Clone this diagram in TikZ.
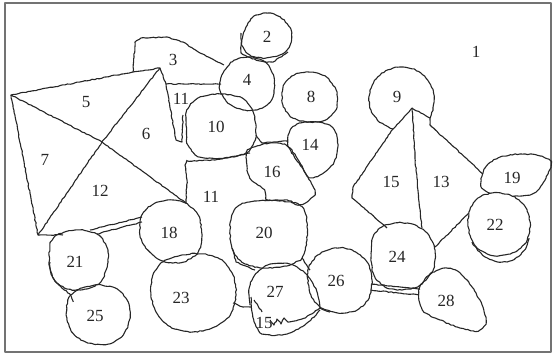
\documentclass[tikz,border=0pt]{standalone}
\usepackage{fontspec}
\setmainfont{Liberation Serif}
\usetikzlibrary{decorations.pathmorphing}
\begin{document}
\begin{tikzpicture}[x=1pt,y=-1pt,line width=1.1pt,line join=round,
  lab/.style={font=\fontsize{17}{17}\selectfont,inner sep=0pt,text=black!85},
  edge/.style={draw=black!85,decorate,decoration={random steps,segment length=2.5pt,amplitude=0.45pt}},
  blob/.style={draw=black!85,decorate,decoration={random steps,segment length=2.5pt,amplitude=0.55pt}}]
\pgfmathsetseed{7}
\useasboundingbox (0,0) rectangle (555,357);
\draw[line width=2.2pt,black!55] (5,3) rectangle (551,352);

% big left polygon 5/6/7/12
\coordinate (A) at (11,95);
\coordinate (B) at (160,68);
\coordinate (C) at (102,142);
\coordinate (D) at (38,235);
\coordinate (E) at (186,203);
\draw[edge] (A) -- (133,72) -- (B) -- (C) -- (D) -- cycle;
\draw[edge] (A) -- (C) -- (E);
\draw[edge] (D) -- (63,235);
\draw[edge] (90,230) -- (142,217);
\draw[edge] (97,234) -- (142,222);
% upper strip 11
\draw[edge] (B) -- (166,84) -- (176,140) -- (182,142) -- (183,115);
\draw[edge] (166,84) -- (221,84);
% region 3
\draw[edge] (133,72) -- (135,42) -- (141,38) -- (167,37) -- (183,42) -- (200,53) -- (224,65);
% lower 11 left
\draw[edge] (187,160) -- (185,165) -- (187,180) -- (186,203);
\draw[edge] (187,161) -- (215,160) -- (250,153);

% blobs
\draw[blob] plot[smooth cycle] coordinates {(245,30) (252,18) (265,13) (280,17) (291,30) (290,45) (282,54) (266,58) (250,55) (242,45)};
\draw[edge] (241,33) -- (241,53) .. controls (252,60) and (262,62) .. (273,62) -- (288,52);
\draw[blob] plot[smooth cycle] coordinates {(222,75) (232,62) (248,57) (265,62) (274,78) (273,97) (262,108) (245,110) (228,103) (220,90)};
\draw[blob] plot[smooth cycle] coordinates {(187,110) (198,98) (220,94) (242,98) (253,112) (256,135) (248,152) (225,158) (200,157) (188,145) (186,125)};
\draw[blob] plot[smooth cycle] coordinates {(283,88) (292,76) (308,72) (325,76) (336,90) (337,107) (327,119) (310,122) (293,118) (283,105)};
\draw[blob] plot[smooth cycle] coordinates {(290,131) (300,123) (318,122) (333,128) (338,145) (334,162) (322,174) (309,177) (299,163) (288,146)};
\draw[edge] (256,135) -- (262,143) -- (287,141);
% 16
\draw[blob] plot[smooth cycle] coordinates {(248,150) (270,143) (286,145) (297,158) (308,177) (315,192) (307,202) (298,205) (287,200) (268,200) (264,190) (250,178) (247,165)};
% 20
\draw[blob] plot[smooth cycle] coordinates {(232,215) (240,205) (258,201) (280,201) (298,204) (306,215) (307,240) (302,258) (285,266) (262,268) (242,262) (232,248) (230,230)};
% 18
\draw[blob] plot[smooth cycle] coordinates {(142,215) (152,205) (168,200) (185,203) (198,215) (202,235) (198,252) (183,262) (163,261) (148,250) (140,235)};
% 23
\draw[blob] plot[smooth cycle] coordinates {(153,275) (163,262) (182,255) (203,254) (222,260) (233,275) (236,295) (230,315) (212,328) (192,332) (172,328) (158,315) (151,295)};
% 21
\draw[blob] plot[smooth cycle] coordinates {(50,245) (57,235) (75,230) (95,233) (106,245) (108,262) (102,280) (90,288) (72,290) (57,283) (50,268)};
\draw[edge] (50,262) .. controls (49,275) and (55,282) .. (62,288) .. controls (68,292) and (72,296) .. (73,302);
% 25
\draw[blob] plot[smooth cycle] coordinates {(68,300) (78,290) (95,285) (115,288) (127,300) (130,318) (123,335) (108,344) (88,343) (73,333) (67,318)};
% 27 and 15
\draw[blob] (250,305) .. controls (247,290) and (250,272) .. (268,265) .. controls (285,259) and (302,266) .. (312,282) .. controls (318,292) and (320,300) .. (320,308) .. controls (310,315) and (300,322) .. (288,322) -- (284,318) -- (281,324) -- (277,319) -- (274,325) -- (270,320);
\draw[edge] (251,297) .. controls (252,315) and (254,328) .. (262,334) .. controls (280,338) and (300,334) .. (320,310);
\draw[edge] (254,300) -- (262,312);
% 20-23-27-26 joins
\draw[edge] (232,248) -- (236,262) -- (255,270);
\draw[edge] (233,303) -- (243,307) -- (251,307);
\draw[edge] (302,258) -- (310,270);
\draw[edge] (320,308) -- (330,312);
% 26
\draw[blob] plot[smooth cycle] coordinates {(308,270) (318,255) (335,248) (352,250) (367,262) (372,280) (369,298) (357,310) (338,313) (320,307) (310,293)};
% 24
\draw[blob] plot[smooth cycle] coordinates {(372,240) (380,228) (395,223) (412,224) (427,233) (435,250) (433,270) (420,285) (402,290) (385,287) (374,275) (371,258)};
\draw[edge] (371,284) -- (420,289);
\draw[edge] (371,290) -- (419,295);
% 28
\draw[blob] plot[smooth cycle] coordinates {(420,287) (430,274) (446,268) (460,273) (472,287) (482,305) (486,322) (478,331) (460,328) (440,320) (424,312) (419,300)};
% 9 and pyramid
\draw[blob] (393,129) .. controls (378,124) and (368,112) .. (369,97) .. controls (370,80) and (385,67) .. (402,67) .. controls (420,67) and (434,82) .. (434,100) .. controls (434,108) and (432,114) .. (430,118);
\coordinate (P) at (412,108);
\draw[edge] (P) -- (393,129) -- (353,187) -- (352,198) -- (387,228);
\draw[edge] (P) -- (430,118) -- (430,125) -- (483,174);
\draw[edge] (P) -- (416,170) -- (422,228);
\draw[edge] (469,213) -- (435,247);
% 19
\draw[blob] plot[smooth cycle] coordinates {(481,186) (485,168) (498,158) (520,154) (540,156) (551,162) (546,178) (534,193) (515,196) (495,195)};
% 22
\fill[white] plot[smooth cycle] coordinates {(470,210) (478,198) (493,193) (510,195) (524,205) (530,222) (527,240) (515,252) (497,256) (480,250) (471,238) (468,222)};
\draw[blob] plot[smooth cycle] coordinates {(470,210) (478,198) (493,193) (510,195) (524,205) (530,222) (527,240) (515,252) (497,256) (480,250) (471,238) (468,222)};
\draw[edge] (472,242) .. controls (480,256) and (492,262) .. (502,262) .. controls (515,262) and (527,252) .. (529,238);

% labels
\node[lab] (n1) at (476,52) {1};
\node[lab] (n2) at (267,37) {2};
\node[lab] (n3) at (173,60) {3};
\node[lab] (n4) at (247,80) {4};
\node[lab] (n5) at (86,102) {5};
\node[lab] (n6) at (146,134) {6};
\node[lab] (n7) at (45,160) {7};
\node[lab] (n8) at (311,97) {8};
\node[lab] (n9) at (397,97) {9};
\node[lab] (n10) at (216,127) {10};
\node[lab] (n11a) at (181,99) {11};
\node[lab] (n11b) at (211,197) {11};
\node[lab] (n12) at (100,191) {12};
\node[lab] (n13) at (441,182) {13};
\node[lab] (n14) at (310,145) {14};
\node[lab] (n15a) at (391,182) {15};
\node[lab] (n15b) at (264,323) {15};
\node[lab] (n16) at (272,172) {16};
\node[lab] (n18) at (169,233) {18};
\node[lab] (n19) at (512,178) {19};
\node[lab] (n20) at (264,233) {20};
\node[lab] (n21) at (75,262) {21};
\node[lab] (n22) at (495,225) {22};
\node[lab] (n23) at (181,298) {23};
\node[lab] (n24) at (397,257) {24};
\node[lab] (n25) at (95,316) {25};
\node[lab] (n26) at (336,281) {26};
\node[lab] (n27) at (275,292) {27};
\node[lab] (n28) at (446,301) {28};
\end{tikzpicture}
\end{document}
